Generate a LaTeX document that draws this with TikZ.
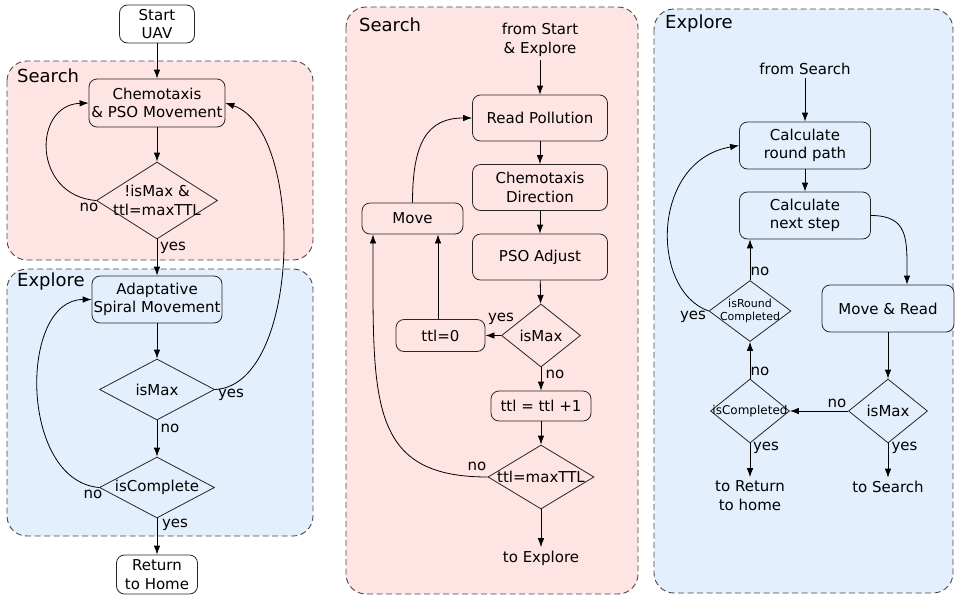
\documentclass[tikz,border=0pt]{standalone}
\usepackage{fontspec}
\setmainfont{DejaVu Sans}
\usetikzlibrary{shapes.geometric,arrows.meta}
\definecolor{srchpink}{RGB}{255,228,228}
\definecolor{explblue}{RGB}{227,239,252}
\tikzset{
  zone/.style={draw=black!72, dash pattern=on 6pt off 3.5pt, line width=0.9pt, rounded corners=20pt},
  zonelbl/.style={anchor=west, inner sep=0pt, font=\fontsize{18pt}{21pt}\selectfont},
  box/.style={draw=black!85, rounded corners=8pt, align=center, inner sep=0pt, line width=0.8pt},
  cond/.style={draw=black!85, diamond, inner sep=0pt, line width=0.8pt},
  lbl/.style={inner sep=1pt},
  arr/.style={-{Latex[length=9pt,width=6.5pt]}, line width=0.8pt},
}

\begin{document}
\begin{tikzpicture}[x=1pt, y=-1pt, font=\fontsize{15pt}{18.5pt}\selectfont]
\useasboundingbox (0,0) rectangle (955,595);

\draw[zone, fill=srchpink] (7,61) rectangle (313,260);
\draw[zone, fill=explblue] (7,269) rectangle (313,536);
\draw[zone, fill=srchpink] (346,7) rectangle (638,594);
\draw[zone, fill=explblue] (654,9) rectangle (953,593);
\node[zonelbl] (zsrchA) at (17,76) {Search};
\node[zonelbl] (zexplA) at (17,282) {Explore};
\node[zonelbl] (zsrchB) at (359,25) {Search};
\node[zonelbl] (zexplB) at (665,24) {Explore};

\node[box, fill=white, minimum width=75pt, minimum height=38pt] (start) at (157,24) {Start\\UAV};
\node[box, fill=srchpink, minimum width=136pt, minimum height=48pt] (chem) at (157,103) {Chemotaxis\\\& PSO Movement};
\node[cond, minimum width=121pt, minimum height=77pt, label={[align=center]center:{!isMax \&\\ttl=maxTTL}}] (again) at (157,200.5) {};
\node[box, fill=explblue, minimum width=130pt, minimum height=47pt] (spiral) at (157,299.5) {Adaptative\\Spiral Movement};
\node[cond, minimum width=115pt, minimum height=61pt, label=center:isMax] (ismax) at (157,389.5) {};
\node[cond, minimum width=115pt, minimum height=61pt, label=center:isComplete] (iscomp) at (157,487.5) {};
\node[box, fill=white, minimum width=81pt, minimum height=39pt] (home) at (157,574.5) {Return\\to Home};
\node[lbl] (noA) at (89,207) {no};
\node[lbl] (yesA) at (173,248) {yes};
\node[lbl] (yesB) at (231,395) {yes};
\node[lbl] (noB) at (170,428) {no};
\node[lbl] (noC) at (93,494) {no};
\node[lbl] (yesC) at (175,525) {yes};
\draw[arr] (start) -- (chem);
\draw[arr] (chem) -- (again);
\draw[arr] (again) -- (spiral);
\draw[arr] (spiral) -- (ismax);
\draw[arr] (ismax) -- (iscomp);
\draw[arr] (iscomp) -- (home);
\draw[arr] (again.west) .. controls +(-64,-5) and +(-56,2) .. (chem.west);
\draw[arr] (ismax.east) .. controls +(87,-4) and +(80,27) .. (chem.east);
\draw[arr] (iscomp.west) .. controls +(-80,-7) and +(-73,0) .. (spiral.west);

\node[align=center] (fromstart) at (540,40) {from Start\\\& Explore};
\node[box, fill=srchpink, minimum width=135pt, minimum height=46pt] (readp) at (540,118) {Read Pollution};
\node[box, fill=srchpink, minimum width=135pt, minimum height=46pt] (chemdir) at (540,187.5) {Chemotaxis\\Direction};
\node[box, fill=srchpink, minimum width=135pt, minimum height=46pt] (psoadj) at (540,257) {PSO Adjust};
\node[box, fill=srchpink, minimum width=101pt, minimum height=31pt] (move) at (412.5,218.5) {Move};
\node[cond, minimum width=79pt, minimum height=63pt, label=center:isMax] (ismaxB) at (541,335.5) {};
\node[box, fill=srchpink, minimum width=89pt, minimum height=32pt] (ttlzero) at (440.5,335.5) {ttl=0};
\node[box, fill=srchpink, minimum width=100pt, minimum height=30pt] (ttlinc) at (541,406) {ttl = ttl +1};
\node[cond, minimum width=106pt, minimum height=64pt, label={center:{ttl=maxTTL}}] (ttlmax) at (541,477) {};
\node (toexpl) at (541,558) {to Explore};
\node[lbl] (yesD) at (501,319) {yes};
\node[lbl] (noD) at (555,374) {no};
\node[lbl] (noE) at (477,466) {no};
\draw[arr] (fromstart) -- (readp);
\draw[arr] (readp) -- (chemdir);
\draw[arr] (chemdir) -- (psoadj);
\draw[arr] (psoadj) -- (ismaxB);
\draw[arr] (ismaxB) -- (ttlinc);
\draw[arr] (ttlinc) -- (ttlmax);
\draw[arr] (ttlmax) -- (toexpl);
\draw[arr] (ismaxB.west) -- (ttlzero.east);
\draw[arr] ([xshift=-2.5pt]ttlzero.north) -- ([xshift=25.5pt]move.south);
\draw[arr] (move.north) .. controls +(0,-60) and +(-45,0) .. (readp.west);
\draw[arr] (ttlmax.west) .. controls +(-120,0) and +(0,166) .. ([xshift=-39.5pt]move.south);

\node (fromsrch) at (805,69) {from Search};
\node[box, fill=explblue, minimum width=131pt, minimum height=47pt] (rpath) at (805,145.5) {Calculate\\round path};
\node[box, fill=explblue, minimum width=131pt, minimum height=47pt] (nstep) at (805,215.5) {Calculate\\next step};
\node[box, fill=explblue, minimum width=132pt, minimum height=47pt] (mvread) at (888,308.5) {Move \& Read};
\node[cond, minimum width=79pt, minimum height=64pt, label=center:isMax] (ismaxC) at (888,411) {};
\node[cond, minimum width=79pt, minimum height=64pt, label={[font=\fontsize{12pt}{14pt}\selectfont]center:isCompleted}] (iscompl) at (750,411) {};
\node[cond, minimum width=82pt, minimum height=61pt, label={[align=center, font=\fontsize{11pt}{13.3pt}\selectfont]center:{isRound\\Completed}}] (isround) at (750,311) {};
\node[align=center] (toret) at (750,495.5) {to Return\\to home};
\node (tosrch) at (888,487) {to Search};
\node[lbl] (noF) at (837,403) {no};
\node[lbl] (yesE) at (766,448) {yes};
\node[lbl] (yesF) at (904.5,448) {yes};
\node[lbl] (noG) at (760,371) {no};
\node[lbl] (noH) at (760,271) {no};
\node[lbl] (yesG) at (693,317) {yes};
\draw[arr] (fromsrch) -- (rpath);
\draw[arr] (rpath) -- (nstep);
\draw[arr] (nstep.east) .. controls +(38,0) and +(0,-45) .. ([xshift=19pt]mvread.north);
\draw[arr] (mvread) -- (ismaxC);
\draw[arr] (ismaxC) -- (tosrch);
\draw[arr] (ismaxC.west) -- (iscompl.east);
\draw[arr] (iscompl) -- (toret);
\draw[arr] (iscompl) -- (isround);
\draw[arr] (isround.north) -- ([xshift=-55pt]nstep.south);
\draw[arr] (isround.west) .. controls +(-59,-21) and +(-88,15) .. (rpath.west);
\end{tikzpicture}
\end{document}
